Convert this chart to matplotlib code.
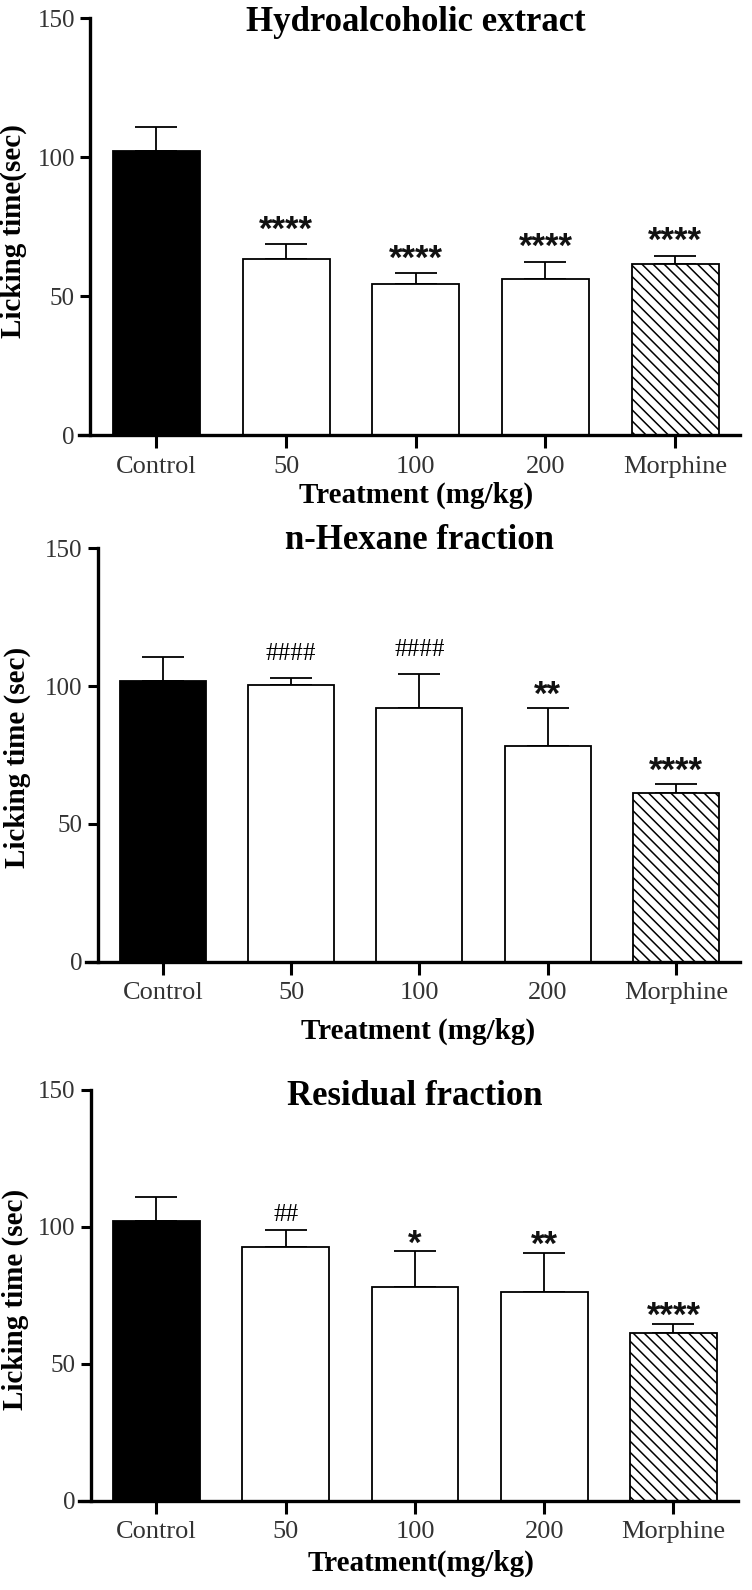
import matplotlib
matplotlib.use("Agg")
import matplotlib.pyplot as plt
import numpy as np

# groups on the x axis
groups = ["Control", "50", "100", "200", "Morphine"]

# licking time (mean) and upper error (sem)
hydro_mean = [102.4, 63.4, 54.4, 56.2, 61.5]
hydro_sem = [8.6, 5.3, 3.8, 6.2, 3.1]
hydro_marks = ["", "****", "****", "****", "****"]

hexane_mean = [102.0, 100.2, 91.9, 78.4, 61.3]
hexane_sem = [8.7, 2.7, 12.4, 13.5, 3.2]
hexane_marks = ["", "####", "####", "**", "****"]

resid_mean = [102.2, 92.5, 78.0, 76.1, 61.1]
resid_sem = [8.7, 6.2, 13.0, 14.5, 3.4]
resid_marks = ["", "##", "*", "**", "****"]

titles = ["Hydroalcoholic extract", "n-Hexane fraction", "Residual fraction"]
ylabels = ["Licking time(sec)", "Licking time (sec)", "Licking time (sec)"]
xlabels = ["Treatment (mg/kg)", "Treatment (mg/kg)", "Treatment(mg/kg)"]

SERIF = "Liberation Serif"

fig = plt.figure(figsize=(7.52, 15.9), dpi=100)

# axes boxes [left, bottom, width, height] and label spots
boxes = [[0.105, 0.7264, 0.879, 0.2621],
         [0.115, 0.3952, 0.869, 0.2600],
         [0.1055, 0.0562, 0.876, 0.2583]]
title_y = [0.989, 1.018, 0.984]
ylab_xy = [(-0.079, 0.49), (-0.085, 0.493), (-0.076, 0.491)]
xlab_xy = [(0.51, -0.113), (0.507, -0.136), (0.518, -0.12)]
# baseline offsets (points) of the significance marks above the error caps
star_off = [3.3, 2.2, -1.5]
hash_off = [13, 13, 6.7]

panels = [(hydro_mean, hydro_sem, hydro_marks),
          (hexane_mean, hexane_sem, hexane_marks),
          (resid_mean, resid_sem, resid_marks)]

plt.rcParams['hatch.linewidth'] = 1.1

for i, (mean, sem, marks) in enumerate(panels):
    ax = fig.add_axes(boxes[i])
    x = np.arange(len(groups))
    colors = ["black", "white", "white", "white", "white"]
    bars = ax.bar(x, mean, width=0.67, color=colors, edgecolor="black", linewidth=1.3, zorder=2)
    bars[-1].set_hatch("\\\\\\")
    ax.errorbar(x, mean, yerr=[np.zeros(len(sem)), sem], fmt="none", ecolor="black",
                elinewidth=1.3, capsize=15, capthick=1.3, zorder=1)

    for xi, m, s, lab in zip(x, mean, sem, marks):
        if not lab:
            continue
        if "#" in lab:
            ax.annotate(lab, (xi, m + s), xytext=(0, hash_off[i]), textcoords="offset points",
                        ha="center", va="baseline", fontsize=18, family=SERIF)
        else:
            ax.annotate(lab, (xi, m + s), xytext=(0, star_off[i]), textcoords="offset points",
                        ha="center", va="baseline", fontsize=25, fontweight="bold",
                        family="Liberation Sans", color="#111111")

    ax.set_xlim(-0.597, 4.5)
    ax.set_ylim(0, 150)
    ax.set_yticks([0, 50, 100, 150])
    ax.set_xticks(x)
    ax.set_xticklabels(groups)

    ax.spines["top"].set_visible(False)
    ax.spines["right"].set_visible(False)
    ax.spines["left"].set_position(("data", -0.51))
    ax.spines["left"].set_linewidth(2.4)
    ax.spines["bottom"].set_linewidth(2.4)
    ax.spines["left"].set_zorder(3)

    ax.tick_params(axis="y", direction="out", length=7, width=2.2, pad=4,
                   labelsize=18, labelcolor="#333333")
    ax.tick_params(axis="x", direction="out", length=9, width=2.2, pad=6,
                   labelsize=19, labelcolor="#333333")
    for t in ax.get_xticklabels() + ax.get_yticklabels():
        t.set_family(SERIF)

    ax.text(2, title_y[i], titles[i], transform=ax.get_xaxis_transform(),
            ha="center", va="center", fontsize=25, fontweight="bold", family=SERIF)
    ax.set_ylabel(ylabels[i], fontsize=21, fontweight="bold", family=SERIF)
    ax.yaxis.set_label_coords(*ylab_xy[i])
    ax.set_xlabel(xlabels[i], fontsize=21, fontweight="bold", family=SERIF)
    ax.xaxis.set_label_coords(*xlab_xy[i])

fig.savefig("out.png", dpi=100)
